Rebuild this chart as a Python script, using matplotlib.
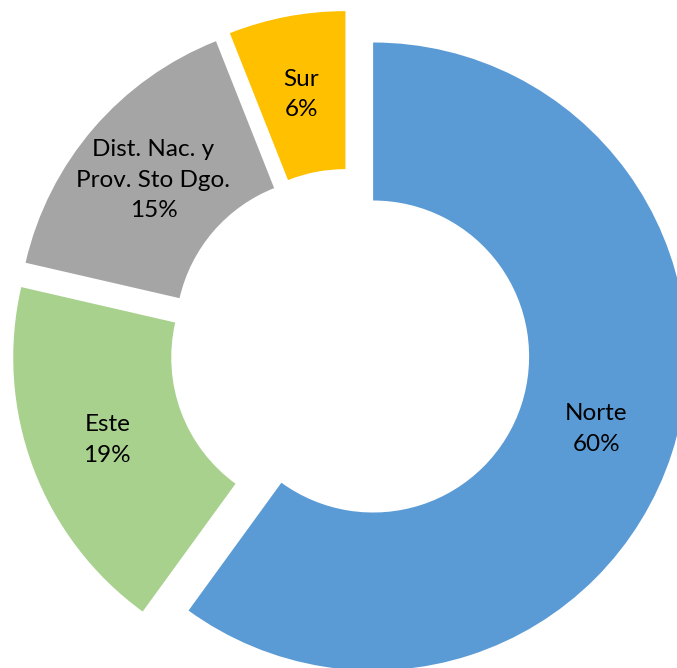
import matplotlib.pyplot as plt

plt.rcParams['font.family'] = ['Lato', 'DejaVu Sans']

regions = ['Norte', 'Este', 'Dist. Nac. y\nProv. Sto Dgo.', 'Sur']
shares = [60.0, 18.6, 15.4, 6.0]
colors = ['#5B9BD5', '#A9D18E', '#A5A5A5', '#FFC000']

labels = [f'{name}\n{round(pct)}%' for name, pct in zip(regions, shares)]

fig = plt.figure(figsize=(6.77, 6.68), dpi=100)
ax = fig.add_axes([0, 0, 1, 1])

# pie in pixel-like units so the crop matches the original
radius = 314
wedges, texts = ax.pie(shares, labels=labels, colors=colors,
                       startangle=90, counterclock=False,
                       radius=radius, center=(350, 319),
                       explode=[24.3] * len(shares),
                       labeldistance=0.748,
                       wedgeprops=dict(width=158, linewidth=0),
                       textprops=dict(fontsize=17.5, color='black'),
                       frame=True)
for t in texts:
    t.set_ha('center')
    t.set_va('center')
    t.set_linespacing(1.55)

ax.set_xlim(0, 677)
ax.set_ylim(0, 668)
ax.set_aspect('equal')
ax.axis('off')

fig.savefig('out.png', dpi=100)
